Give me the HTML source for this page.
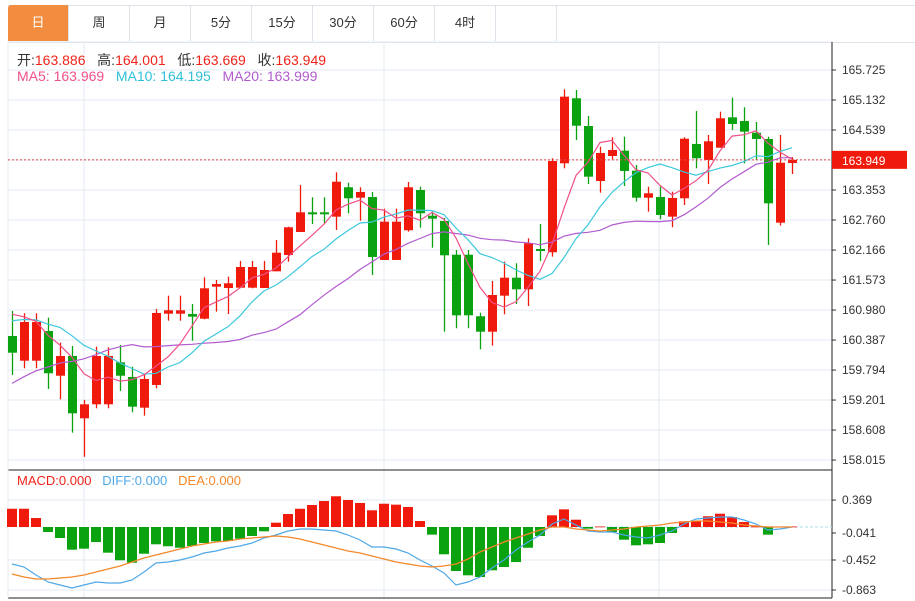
<!DOCTYPE html>
<html><head><meta charset="utf-8">
<style>
body{margin:0;background:#fff;font-family:"Liberation Sans","Noto Sans CJK SC",sans-serif;}
#wrap{position:relative;width:915px;height:601px;overflow:hidden;background:#fff}
.tab{position:absolute;top:5px;height:36px;width:60px;border-right:1px solid #dde3e8;font-size:13px;color:#333;text-align:center;line-height:36px}
.info{position:absolute;left:17px;font-size:14px;white-space:nowrap}
.k{color:#333}.r{color:#f0241a}
</style></head><body>
<div id="wrap">
  <div style="position:absolute;left:8px;top:5px;width:907px;height:36px;border-top:1px solid #dde3e8;border-bottom:1px solid #dde3e8"></div>
  <div class="tab" style="left:8px;background:#f28c3e;color:#fff;border-radius:3px 0 0 0">日</div>
  <div class="tab" style="left:69px">周</div>
  <div class="tab" style="left:130px">月</div>
  <div class="tab" style="left:191px">5分</div>
  <div class="tab" style="left:252px">15分</div>
  <div class="tab" style="left:313px">30分</div>
  <div class="tab" style="left:374px">60分</div>
  <div class="tab" style="left:435px">4时</div>
  <div class="tab" style="left:496px"></div>

  <svg id="svg" width="915" height="601" style="position:absolute;left:0;top:0"></svg>

  <div class="info" style="top:50px"><span class="k">开:</span><span class="r">163.886</span>&nbsp;&nbsp; <span class="k">高:</span><span class="r">164.001</span>&nbsp;&nbsp; <span class="k">低:</span><span class="r">163.669</span>&nbsp;&nbsp; <span class="k">收:</span><span class="r">163.949</span></div>
  <div class="info" style="top:68px"><span style="color:#f0508a">MA5: 163.969</span>&nbsp;&nbsp; <span style="color:#2fc0d8">MA10: 164.195</span>&nbsp;&nbsp; <span style="color:#b25ccf">MA20: 163.999</span></div>
  <div class="info" style="top:473px;font-size:13px"><span style="color:#f0241a">MACD:0.000</span>&nbsp;&nbsp; <span style="color:#4fa8e8">DIFF:0.000</span>&nbsp;&nbsp; <span style="color:#f5882a">DEA:0.000</span></div>
</div>
<script>
const opens =[160.467,159.979,159.979,160.566,159.682,160.072,158.840,159.117,159.117,159.947,159.657,159.050,159.499,160.908,160.908,160.902,160.809,161.442,161.416,161.422,161.422,161.416,161.746,162.068,162.523,162.912,162.912,162.826,163.407,163.201,163.215,161.970,161.970,162.557,163.353,162.845,162.740,162.074,162.074,160.857,160.552,161.264,161.620,161.390,162.187,162.122,163.881,165.166,164.618,163.531,164.025,164.130,163.735,163.201,163.215,162.826,163.189,164.263,163.946,164.189,164.790,164.717,164.486,164.361,162.707,163.886];
const highs =[160.961,160.916,160.916,160.829,160.335,160.270,159.202,160.256,160.244,160.289,159.861,159.696,161.001,161.264,161.264,161.100,161.628,161.574,161.640,161.950,161.950,161.950,162.365,162.628,163.452,163.209,163.209,163.703,163.498,163.407,163.314,162.984,162.984,163.511,163.418,162.924,162.800,162.167,162.167,160.928,161.555,161.936,161.904,162.399,162.681,163.980,165.344,165.330,164.816,164.209,164.395,164.407,163.847,163.418,163.418,163.320,164.395,164.915,164.440,164.901,165.178,164.988,164.697,164.407,164.440,164.001];
const lows  =[159.696,159.829,159.829,159.420,159.216,158.556,158.081,159.038,159.038,159.380,158.959,158.892,159.434,160.770,160.770,160.374,160.797,160.948,160.902,161.416,161.410,161.416,161.746,161.936,162.523,162.681,162.695,162.563,162.893,162.746,161.673,161.970,161.970,162.529,162.608,162.213,160.552,160.620,160.620,160.204,160.276,160.896,161.100,161.060,161.950,162.035,163.782,164.342,163.472,163.300,163.960,163.432,163.122,162.924,162.774,162.616,163.057,163.782,163.472,164.189,164.539,163.881,163.946,162.266,162.648,163.669];
const closes=[160.137,160.744,160.744,159.730,160.072,158.939,159.117,160.072,160.072,159.682,159.070,159.617,160.922,160.975,160.975,160.849,161.410,161.495,161.509,161.831,161.831,161.772,162.114,162.616,162.912,162.873,162.873,163.517,163.189,163.314,162.029,162.727,162.727,163.407,162.893,162.786,162.062,160.876,160.876,160.552,161.278,161.620,161.390,162.300,162.148,163.926,165.198,164.624,163.616,164.085,164.144,163.729,163.201,163.288,162.859,163.195,164.367,163.980,164.316,164.771,164.658,164.506,164.361,163.090,163.893,163.949];
const priorCloses=[158.1,158.4,158.2,158.5,158.3,158.1,158.4,158.2,158.5,158.2,160.5,160.8,160.6,160.7,160.6,161.0,161.2,161.1,161.05];
const priceTicks=["165.725","165.132","164.539","163.353","162.760","162.166","161.573","160.980","160.387","159.794","159.201","158.608","158.015"];
const lastPrice=163.949;
const macdHist=[0.25,0.25,0.123,-0.068,-0.151,-0.311,-0.297,-0.206,-0.352,-0.456,-0.489,-0.366,-0.237,-0.264,-0.284,-0.260,-0.219,-0.196,-0.192,-0.160,-0.123,-0.059,0.059,0.178,0.25,0.301,0.356,0.421,0.370,0.329,0.229,0.319,0.306,0.274,0.082,-0.105,-0.374,-0.603,-0.662,-0.685,-0.593,-0.548,-0.480,-0.284,-0.123,0.160,0.242,0.100,-0.023,0.007,-0.068,-0.174,-0.251,-0.237,-0.219,-0.082,0.078,0.078,0.147,0.182,0.137,0.068,0.007,-0.105,0.007,0.007];
const diffVals=[-0.507,-0.548,-0.658,-0.754,-0.795,-0.836,-0.795,-0.754,-0.767,-0.767,-0.726,-0.617,-0.493,-0.480,-0.452,-0.411,-0.356,-0.329,-0.288,-0.260,-0.219,-0.151,-0.110,-0.055,-0.027,-0.027,-0.041,-0.055,-0.110,-0.178,-0.274,-0.274,-0.301,-0.356,-0.452,-0.534,-0.630,-0.795,-0.754,-0.685,-0.562,-0.452,-0.315,-0.206,-0.110,0.041,0.110,0.027,-0.055,-0.068,-0.068,-0.110,-0.137,-0.151,-0.110,-0.055,0.041,0.110,0.123,0.137,0.137,0.096,0.041,-0.041,-0.027,0];
const deaVals=[-0.644,-0.685,-0.712,-0.712,-0.699,-0.685,-0.658,-0.617,-0.575,-0.534,-0.480,-0.425,-0.384,-0.343,-0.301,-0.260,-0.233,-0.206,-0.192,-0.164,-0.151,-0.137,-0.123,-0.137,-0.164,-0.206,-0.247,-0.288,-0.329,-0.356,-0.397,-0.438,-0.480,-0.507,-0.534,-0.548,-0.534,-0.507,-0.438,-0.343,-0.274,-0.206,-0.151,-0.096,-0.041,0,0,-0.027,-0.041,-0.055,-0.041,-0.027,0,0.014,0.027,0.055,0.068,0.082,0.082,0.068,0.055,0.027,0.014,0,0,0];
const macdTicks=["0.369","-0.041","-0.452","-0.863"];

const NS="http://www.w3.org/2000/svg";
const svg=document.getElementById('svg');
const RED="#f01a0c",GREEN="#0aa20e";
function xS(i){return 12+12*i;}
function yP(p){return 70+(165.725-p)*50.59;}
function yM(v){return 527-v*73;}
function mk(tag,attrs,name){const e=document.createElementNS(NS,tag);for(const k in attrs)e.setAttribute(k,attrs[k]);


svg.appendChild(e);return e;}
const L=8,R=832;
mk('rect',{x:L,y:42,width:R-L,height:428,fill:'none',stroke:'#e3eaf0'},'main-plot-frame');
[84,384,659].forEach(x=>{mk('line',{x1:x,y1:42,x2:x,y2:598,stroke:'#e3eaf0'},'vertical-gridline');});
priceTicks.forEach(t=>{const y=yP(parseFloat(t));
 mk('line',{x1:L,y1:y,x2:R,y2:y,stroke:'#e3eaf0'},'price-gridline');
 mk('line',{x1:R,y1:y,x2:R+4,y2:y,stroke:'#333'},'price-tick');
 const tx=mk('text',{x:R+10,y:y+4,'font-size':12,fill:'#333'},'price-tick-label');tx.textContent=t;});
mk('line',{x1:L,y1:yP(lastPrice),x2:R,y2:yP(lastPrice),stroke:'#e3eaf0'},'price-gridline');
macdTicks.forEach(t=>{const y=yM(parseFloat(t))+ (t==="-0.041"?3:0);
 if(t!=="-0.041")mk('line',{x1:L,y1:y,x2:R,y2:y,stroke:'#e3eaf0'},'macd-gridline');
 mk('line',{x1:R,y1:y,x2:R+4,y2:y,stroke:'#333'},'macd-tick');
 const tx=mk('text',{x:R+10,y:y+4,'font-size':12,fill:'#333'},'macd-tick-label');tx.textContent=t;});
mk('line',{x1:L,y1:470,x2:R,y2:470,stroke:'#222'},'pane-divider');
mk('line',{x1:L,y1:598,x2:R,y2:598,stroke:'#222'},'macd-bottom-axis');
mk('line',{x1:R,y1:42,x2:R,y2:598,stroke:'#222'},'right-axis');
mk('line',{x1:L,y1:42,x2:L,y2:598,stroke:'#e3eaf0'},'left-border');
closes.forEach((c,i)=>{const o=opens[i],up=c>=o,col=up?RED:GREEN,x=xS(i);
 mk('line',{x1:x+0.5,y1:yP(highs[i]),x2:x+0.5,y2:yP(lows[i]),stroke:col,'stroke-width':1.3},'candle-wick');
 const t=yP(Math.max(o,c)),b=yP(Math.min(o,c));
 mk('rect',{x:x-4,y:t,width:9,height:Math.max(2,b-t),fill:col},'candle-body');});
const all=priorCloses.concat(closes);
function ma(n){return closes.map((_,i)=>{const j=i+priorCloses.length;let s=0,k=0;for(let m=j;m>j-n&&m>=0;m--){s+=all[m];k++;}return s/k;});}
[[20,'#b25ccf','ma20-line'],[10,'#3cc8dc','ma10-line'],[5,'#f0508a','ma5-line']].forEach(([n,col,name])=>{
 const pts=ma(n).map((v,i)=>xS(i)+','+yP(v).toFixed(1)).join(' ');
 mk('polyline',{points:pts,fill:'none',stroke:col,'stroke-width':1.2},name);});
const yl=yP(lastPrice);
mk('line',{x1:L,y1:yl,x2:R,y2:yl,stroke:'#e8454a','stroke-dasharray':'2,2'},'last-price-line');
mk('rect',{x:R,y:yl-9,width:75,height:18,fill:'#f01a0c'},'last-price-box');
const lt=mk('text',{x:R+10,y:yl+5,'font-size':12,fill:'#fff'},'last-price-label');lt.textContent=lastPrice.toFixed(3);
mk('line',{x1:560,y1:yM(0),x2:R,y2:yM(0),stroke:'#a9dcea','stroke-dasharray':'3,2'},'macd-zero-line');
macdHist.forEach((v,i)=>{const x=xS(i),y0=yM(0),y1=yM(v);
 mk('rect',{x:x-5,y:Math.min(y0,y1),width:10,height:Math.max(0.8,Math.abs(y1-y0)),fill:v>=0?RED:GREEN},'macd-bar');});
mk('polyline',{points:diffVals.map((v,i)=>xS(i)+','+yM(v).toFixed(1)).join(' '),fill:'none',stroke:'#4fa8e8','stroke-width':1.2},'diff-line');
mk('polyline',{points:deaVals.map((v,i)=>xS(i)+','+yM(v).toFixed(1)).join(' '),fill:'none',stroke:'#f5882a','stroke-width':1.3},'dea-line');
</script>
</body></html>
